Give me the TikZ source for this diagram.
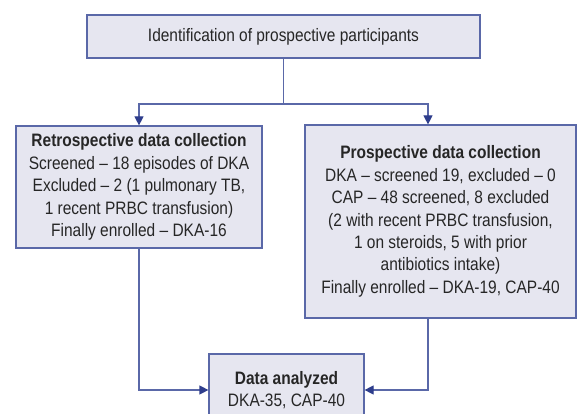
\documentclass[tikz,border=0pt]{standalone}
\usepackage{fontspec}
\setmainfont{Liberation Sans}[FakeStretch=0.86]
\usetikzlibrary{arrows.meta}
\definecolor{boxfill}{HTML}{E6E6F0}
\definecolor{boxline}{HTML}{5A68A8}
\definecolor{arrline}{HTML}{2E3D8C}
\tikzset{
    box/.style={draw=boxline, fill=boxfill, line width=1.2pt, align=center, inner sep=0pt,
        font=\fontsize{18}{22.4}\selectfont, text=black!85},
    arr/.style={draw=boxline, line width=1.2pt, -{Triangle[width=9pt,length=9pt,color=arrline]}},
    link/.style={draw=boxline, line width=1.2pt}
}
\begin{document}
\begin{tikzpicture}[x=1pt,y=-1pt]
    \useasboundingbox (0,0) rectangle (578,414);
    \node[box, minimum width=393pt, minimum height=43pt] (ident) at (283.5,36.5) {Identification of prospective participants};
    \node[box, minimum width=246pt, minimum height=122pt] (retro) at (139,187) {\textbf{Retrospective data collection}\\Screened -- 18 episodes of DKA\\Excluded -- 2 (1 pulmonary TB,\\1 recent PRBC transfusion)\\Finally enrolled -- DKA-16};
    \node[box, minimum width=271pt, minimum height=193pt] (prosp) at (440.5,221.5) {\textbf{Prospective data collection}\\DKA -- screened 19, excluded -- 0\\CAP -- 48 screened, 8 excluded\\(2 with recent PRBC transfusion,\\1 on steroids, 5 with prior\\antibiotics intake)\\Finally enrolled -- DKA-19, CAP-40};
    \node[box, minimum width=155pt, minimum height=72pt] (analyzed) at (286.5,390) {\textbf{Data analyzed}\\DKA-35, CAP-40};
    \coordinate (split) at (ident.south |- 0,104);
    \draw[link] (ident.south) -- (split);
    \draw[arr] (split) -| (retro.north);
    \draw[arr] (split) -| ([xshift=-12.5pt]prosp.north);
    \draw[arr] (retro.south) |- (analyzed.west);
    \draw[arr] ([xshift=-12.5pt]prosp.south) |- (analyzed.east);
\end{tikzpicture}
\end{document}
